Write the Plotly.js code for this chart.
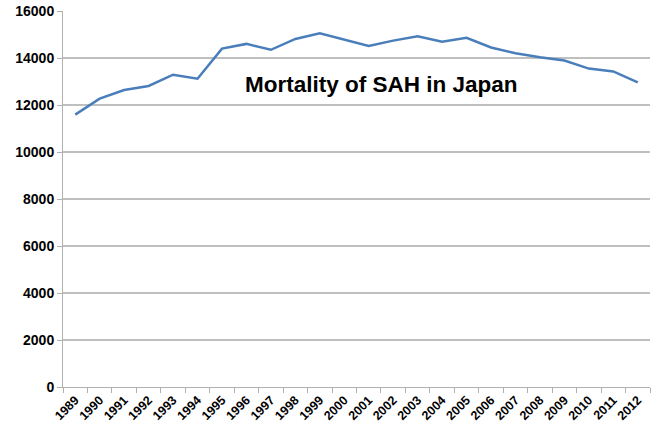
<!DOCTYPE html>
<html>
<head>
<meta charset="utf-8">
<script src="https://cdn.plot.ly/plotly-3.0.1.min.js"></script>
<style>html,body{margin:0;padding:0;background:#fff;}#chart{width:654px;height:430px;}</style>
</head>
<body>
<div id="chart"></div>
<script>
var years = ["1989","1990","1991","1992","1993","1994","1995","1996","1997","1998","1999","2000","2001","2002","2003","2004","2005","2006","2007","2008","2009","2010","2011","2012"];
var deaths = [11590,12270,12640,12810,13290,13120,14400,14600,14350,14810,15050,14790,14510,14740,14920,14690,14860,14450,14200,14030,13890,13550,13430,12960];
var yTicks = [0,2000,4000,6000,8000,10000,12000,14000,16000];
var chartTitle = "Mortality of SAH in Japan";

var trace = {
  x: years, y: deaths, type: "scatter", mode: "lines",
  line: {color: "#4a7ebb", width: 2.5},
  hoverinfo: "x+y"
};
var layout = {
  width: 654, height: 430,
  margin: {l: 63, r: 4, t: 11, b: 43},
  paper_bgcolor: "#fff", plot_bgcolor: "#fff",
  showlegend: false,
  font: {family: "Liberation Sans, Arial, sans-serif", color: "#000"},
  xaxis: {
    type: "category",
    tickangle: -45,
    tickfont: {size: 12.5, family: "Liberation Sans, Arial, sans-serif", weight: "bold"},
    showline: true, linecolor: "#b0b0b0", linewidth: 1,
    ticks: "outside", ticklen: 5, tickcolor: "#b0b0b0",
    tickson: "boundaries",
    showgrid: false, zeroline: false,
    range: [-0.5, 23.5]
  },
  yaxis: {
    range: [0, 16000],
    tickvals: yTicks,
    ticktext: yTicks.map(String),
    tickfont: {size: 14, family: "Liberation Sans, Arial, sans-serif", weight: "bold"},
    showline: true, linecolor: "#b0b0b0", linewidth: 1,
    ticks: "outside", ticklen: 5, tickcolor: "#b0b0b0",
    showgrid: true, gridcolor: "#bfbfbf", gridwidth: 1.3,
    zeroline: false
  },
  annotations: [{
    text: "<b>" + chartTitle + "</b>",
    xref: "paper", yref: "paper",
    x: 0.542, y: 0.805, xanchor: "center", yanchor: "middle",
    showarrow: false,
    font: {size: 22.5, family: "Liberation Sans, Arial, sans-serif", color: "#000"}
  }]
};
Plotly.newPlot("chart", [trace], layout, {displayModeBar: false, staticPlot: true});
</script>
</body>
</html>
